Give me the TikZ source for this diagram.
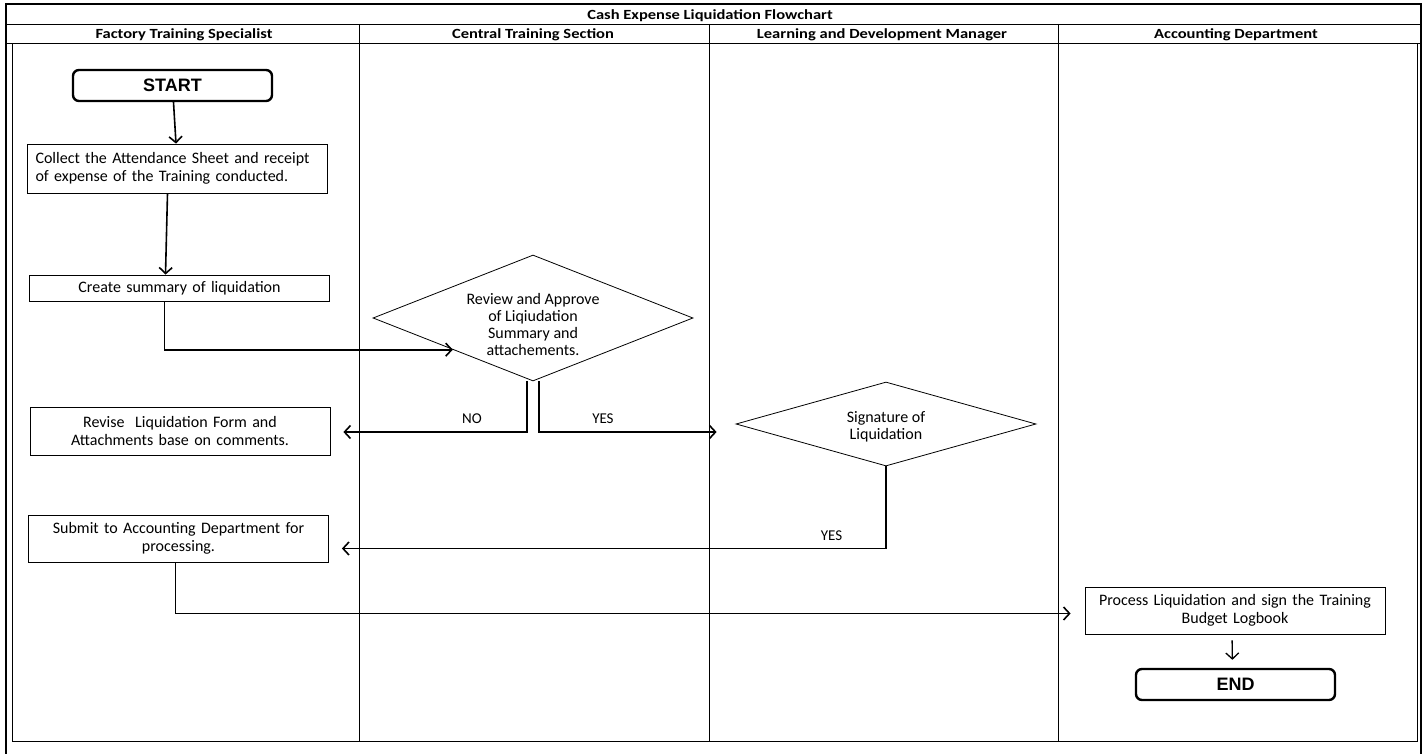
\documentclass[tikz,border=0pt]{standalone}
\usepackage{fontspec}
\setmainfont{Carlito}
\newfontfamily\termfont{Liberation Sans}
\newfontfamily\lanefont{Carlito}[FakeStretch=1.18]
\usetikzlibrary{shapes.geometric, arrows.meta, positioning}

\begin{document}
\begin{tikzpicture}[x=1pt, y=-1pt,
  stepbox/.style={draw, line width=0.8pt, text width=284pt, inner xsep=8pt, inner ysep=0pt, align=center, font=\fontsize{16}{18.5}\selectfont},
  terminal/.style={draw, line width=2.4pt, rounded corners=6pt, minimum width=199pt, minimum height=31pt, font=\termfont\bfseries\fontsize{18}{20}\selectfont},
  decision/.style={draw, diamond, line width=0.8pt, align=center, inner sep=-9pt, font=\fontsize{16}{17}\selectfont},
  flow/.style={-{Straight Barb[length=6pt,width=13pt]}, line width=1.6pt},
  lane/.style={font=\lanefont\bfseries\fontsize{14}{16}\selectfont},
  answer/.style={font=\fontsize{15}{17}\selectfont, above=4pt}
]
\useasboundingbox (0,0) rectangle (1424,754);
\clip (0,0) rectangle (1424,754);

% swimlane frame
\draw[line width=2.8pt] (6,4) rectangle (1421,770);
\draw[line width=0.8pt] (6,24) -- (1421,24);
\draw[line width=0.8pt] (6,43) -- (1421,43);
\draw[line width=0.8pt] (12,43) rectangle (1417,741);
\foreach \x in {359,709,1058}
  \draw[line width=0.8pt] (\x,24) -- (\x,741);

\node[lane] (title) at (710,16) {Cash Expense Liquidation Flowchart};
\node[lane] (fts) at (184,35) {Factory Training Specialist};
\node[lane] (cts) at (533,35) {Central Training Section};
\node[lane] (ldm) at (882,35) {Learning and Development Manager};
\node[lane] (acc) at (1236,35) {Accounting Department};

% steps
\node[terminal] (start) at (172.5,85.5) {START};
\node[stepbox, align=left, minimum height=49pt] (collect) at (177.5,168.5) {Collect the Attendance Sheet and receipt\\of expense of the Training conducted.};
\node[stepbox, minimum height=26pt] (create) at (179.5,288) {Create summary of liquidation};
\node[decision, aspect=2.54, minimum width=320pt, minimum height=126pt] (review) at (533,318) {\rule{0pt}{25pt}Review and Approve\\of Liqiudation\\Summary and\\attachements.};
\node[stepbox, minimum height=48pt] (revise) at (180,431) {Revise\ \ Liquidation Form and\\Attachments base on comments.};
\node[decision, aspect=3.57, minimum width=300pt, minimum height=84pt] (sign) at (886,424) {\rule{0pt}{17pt}Signature of\\Liquidation};
\node[stepbox, minimum height=47pt] (submit) at (178.5,538.5) {Submit to Accounting Department for\\processing.};
\node[stepbox, minimum height=47pt] (process) at (1235,610.5) {Process Liquidation and sign the Training\\Budget Logbook};
\node[terminal] (end) at (1235.5,684.5) {END};

% connectors
\draw[flow] (start) -- (collect);
\draw[flow] ([xshift=-10pt]collect.south) -- ([xshift=-14pt]create.north);
\draw[flow] ([xshift=-15pt]create.south) |- (review.south west);
\draw[flow] ([xshift=-6pt]review.south) |- node[answer, pos=0.65] {NO} ([xshift=13pt,yshift=-1pt]revise.east);
\draw[flow] ([xshift=6pt]review.south) |- node[answer, pos=0.68] {YES} ([xshift=-19pt,yshift=-8pt]sign.west);
\draw[flow] (sign.south) |- node[answer, pos=0.55] {YES} ([xshift=13pt,yshift=-10pt]submit.east);
\draw[flow] ([xshift=-3pt]submit.south) |- ([xshift=-14pt,yshift=-3pt]process.west);
\draw[flow, line width=1.3pt, shorten <=6pt, shorten >=8pt] ([xshift=-3pt]process.south) -- ([xshift=-3pt]end.north);
\end{tikzpicture}
\end{document}
